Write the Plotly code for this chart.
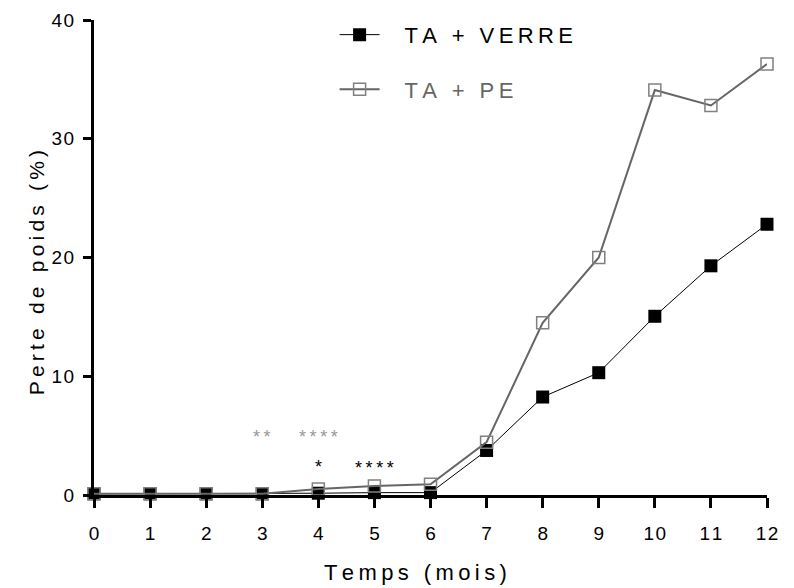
import plotly.graph_objects as go

months = list(range(13))
verre = [0.1, 0.1, 0.1, 0.1, 0.15, 0.2, 0.2, 3.75, 8.25, 10.3, 15.05, 19.3, 22.8]
pe = [0.1, 0.1, 0.1, 0.1, 0.5, 0.75, 0.9, 4.45, 14.5, 20.0, 34.1, 32.8, 36.3]

x_ticks = list(range(13))
y_ticks = [0, 10, 20, 30, 40]

# significance marks
sig_x = [3, 4, 4, 5]
sig_y = [4.9, 4.9, 2.4, 2.3]
sig_text = ["**", "****", "*", "****"]
sig_color = ["#999999", "#999999", "#000000", "#000000"]

TS = "\u2009"
HS = "\u200a"
GAP = "\u2002\u2009\u2009"


def spaced(s, sep=TS):
    return sep.join(list(s))


FONT = "Liberation Sans, Arial, sans-serif"

fig = go.Figure()
fig.add_trace(go.Scatter(
    x=months, y=verre, mode="lines+markers", name=GAP + spaced("TA + VERRE"),
    line=dict(color="#000000", width=1),
    marker=dict(symbol="square", size=13, color="#000000"),
    cliponaxis=False, legendgroup="a",
))
fig.add_trace(go.Scatter(
    x=months, y=pe, mode="lines+markers",
    name=GAP + "<span style='color:#666666'>" + spaced("TA + PE") + "</span>",
    line=dict(color="#666666", width=2),
    marker=dict(symbol="square-open", size=12, color="#808080", line=dict(width=1.5)),
    cliponaxis=False, legendgroup="b",
))
for xs, ys, t, c in zip(sig_x, sig_y, sig_text, sig_color):
    fig.add_annotation(x=xs, y=ys, text=spaced(t), showarrow=False,
                       font=dict(size=18, color=c, family=FONT),
                       xanchor="center", yanchor="middle")

# axis titles as annotations (offset from the plot centre as in the reference)
fig.add_annotation(x=0.477, y=-0.163, xref="paper", yref="paper",
                   text=spaced("Temps (mois)"), showarrow=False,
                   font=dict(size=22, family=FONT, color="#000000"),
                   xanchor="center", yanchor="middle")
fig.add_annotation(x=-0.086, y=0.467, xref="paper", yref="paper",
                   text=spaced("Perte de poids (%)"), showarrow=False, textangle=-90,
                   font=dict(size=21, family=FONT, color="#000000"),
                   xanchor="center", yanchor="middle")

fig.update_layout(
    width=794, height=588,
    margin=dict(l=86, r=35, t=12, b=101, autoexpand=False),
    paper_bgcolor="white", plot_bgcolor="white",
    font=dict(family=FONT, size=19, color="#000000"),
    showlegend=True,
    legend=dict(x=0.3575, y=1.013, xanchor="left", yanchor="top",
                font=dict(size=22, family=FONT, color="#000000"), itemwidth=40,
                tracegroupgap=23, bgcolor="rgba(0,0,0,0)"),
    xaxis=dict(range=[0, 12], tickvals=x_ticks,
               ticktext=[spaced(str(v), HS) for v in x_ticks],
               showgrid=False, zeroline=False, showline=True, automargin=False,
               linecolor="#000000", linewidth=3,
               ticks="outside", ticklen=10, tickwidth=3, tickcolor="#000000",
               tickfont=dict(size=19), ticklabelstandoff=9, ticklabeloverflow="allow"),
    yaxis=dict(range=[0, 40], tickvals=y_ticks,
               ticktext=[spaced(str(v), HS) for v in y_ticks],
               showgrid=False, zeroline=False, showline=True, automargin=False,
               linecolor="#000000", linewidth=3,
               ticks="outside", ticklen=8, tickwidth=3, tickcolor="#000000",
               tickfont=dict(size=19), ticklabelstandoff=5, ticklabeloverflow="allow"),
)

fig.write_html("out.html")
